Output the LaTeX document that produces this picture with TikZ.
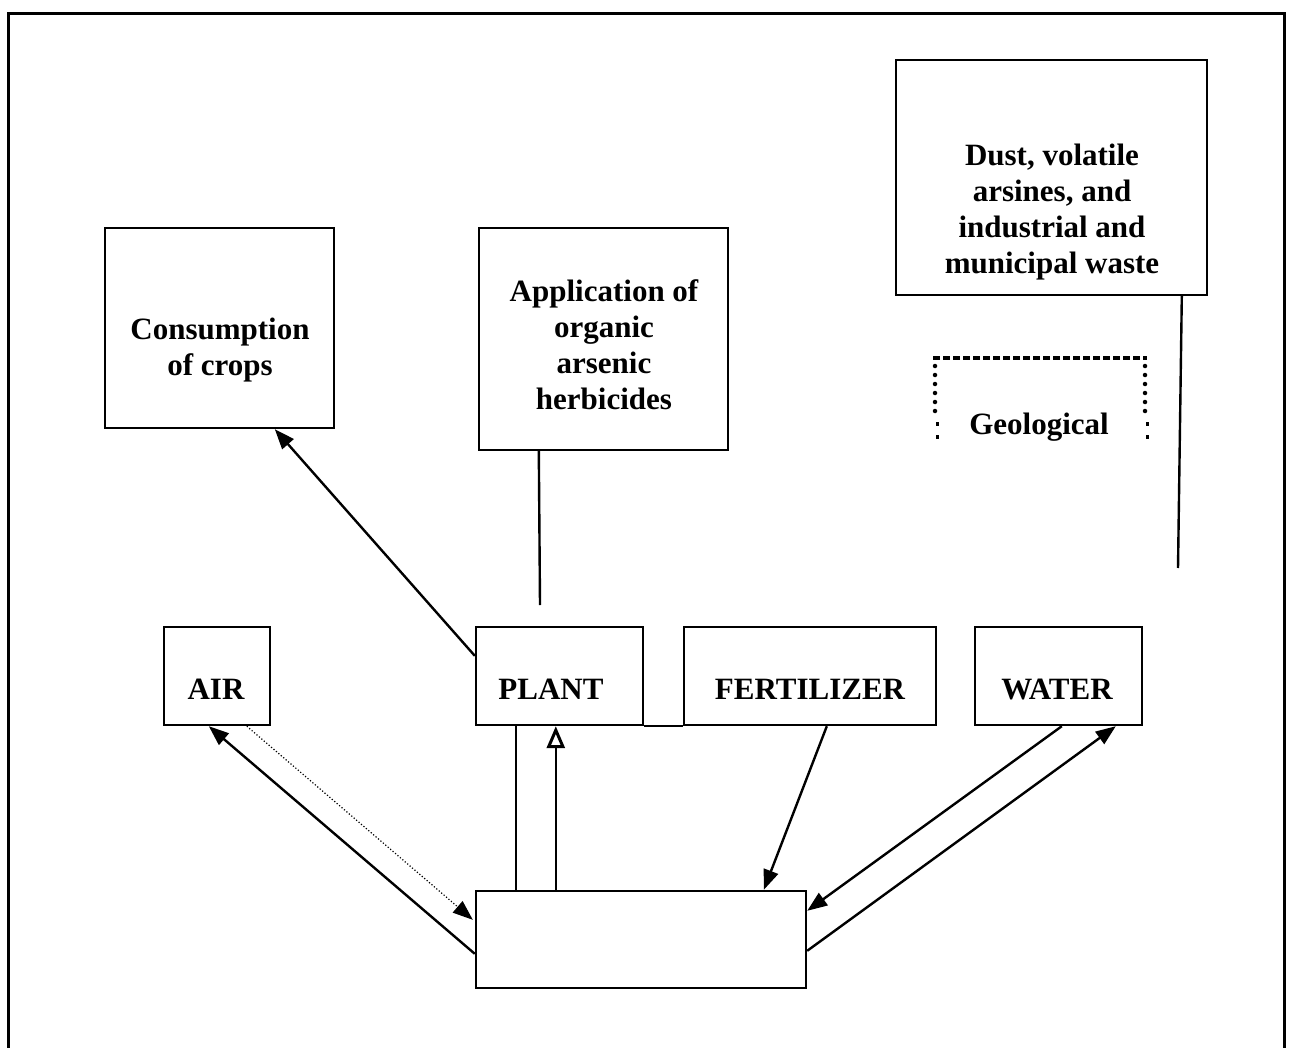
\documentclass[tikz,border=0pt]{standalone}
\usepackage{fontspec}
\setmainfont{Liberation Serif}
\usetikzlibrary{arrows.meta,calc}
\begin{document}
\begin{tikzpicture}[x=1pt,y=-1pt,
  box/.style={draw,line width=2.4pt,inner sep=0pt,minimum width=#1},
  lbl/.style={font=\fontsize{31}{36}\selectfont\bfseries,align=center,inner sep=0pt},
  conn/.style={line width=2.4pt},
  arr/.style={conn,-{Triangle[length=20pt,width=15pt]}},
  geo/.style={line width=4.5pt,dash pattern=on 7pt off 3pt}]
\useasboundingbox (0,0) rectangle (1292,1048);
\draw[line width=3pt] (8.5,1048) -- (8.5,14) -- (1284,14) -- (1284,1048);
% boxes
\node[box=229pt,minimum height=200pt] (cons) at (219.5,328) {};
\node[box=249pt,minimum height=222pt] (app) at (603.5,339) {};
\node[box=311pt,minimum height=235pt] (dust) at (1051.5,177.5) {};
\node[box=106pt,minimum height=98pt] (air) at (217,676) {};
\node[box=167pt,minimum height=98pt] (plant) at (559.5,676) {};
\node[box=252pt,minimum height=98pt] (fert) at (810,676) {};
\node[box=167pt,minimum height=98pt] (water) at (1058.5,676) {};
\node[box=330pt,minimum height=97pt] (sink) at (641,939.5) {};
% texts
\node[lbl] (tcons) at (220,350) {Consumption\\of crops};
\node[lbl] (tapp) at (604,344.5) {Application of\\organic\\arsenic\\herbicides};
\node[lbl] (tdust) at (1052,212) {Dust, volatile\\arsines, and\\industrial and\\municipal waste};
\node[lbl] (tair) at (216,689) {AIR};
\node[lbl] (tplant) at (551,689) {PLANT};
\node[lbl] (tfert) at (810,689) {FERTILIZER};
\node[lbl] (twater) at (1057,689) {WATER};
\node[lbl] (tgeo) at (1039,427) {Geological};
% geological dotted frame
\draw[geo] (933,358) -- (1147,358);
\draw[line width=4.5pt,line cap=round,dash pattern=on 0pt off 9pt] (935,366) -- (935,412);
\draw[line width=4.5pt,line cap=round,dash pattern=on 0pt off 9pt] (1145,366) -- (1145,412);
\draw[line width=3pt,dash pattern=on 4pt off 9pt] (937,422) -- (937,440);
\draw[line width=3pt,dash pattern=on 4pt off 9pt] (1147,422) -- (1147,440);
% free ends
\coordinate (append) at (540,605);
\coordinate (dustend) at (1178,568);
% connectors
\draw[conn] ($(app.south west)+(61,0)$) -- (append);
\draw[conn] ($(dust.south west)+(287,0)$) -- (dustend);
\draw[conn] (plant.south east) -- (fert.south west);
\draw[arr] ($(plant.north west)+(0,30)$) -- ($(cons.south west)+(171,0)$);
\coordinate (s1) at ($(sink.north west)+(41,0)$);
\coordinate (s2) at ($(sink.north west)+(81,0)$);
\draw[conn] (s1) -- (s1 |- plant.south);
\draw[conn,-{Triangle[open,length=22pt,width=18pt,line width=3pt]}] (s2) -- (s2 |- plant.south);
\draw[arr] ($(fert.south west)+(144,0)$) -- ($(sink.north west)+(289,0)$);
\draw[arr] ($(water.south west)+(88,0)$) -- ($(sink.north east)+(0,21)$);
\draw[arr] ($(sink.north east)+(0,61)$) -- ($(water.south west)+(142,0)$);
\draw[arr] ($(sink.north west)+(0,64)$) -- ($(air.south west)+(46,0)$);
\draw[line width=1.2pt,dotted,-{Triangle[length=20pt,width=15pt]}] ($(air.south west)+(84,0)$) -- ($(sink.north west)+(-2,30)$);
\end{tikzpicture}
\end{document}
